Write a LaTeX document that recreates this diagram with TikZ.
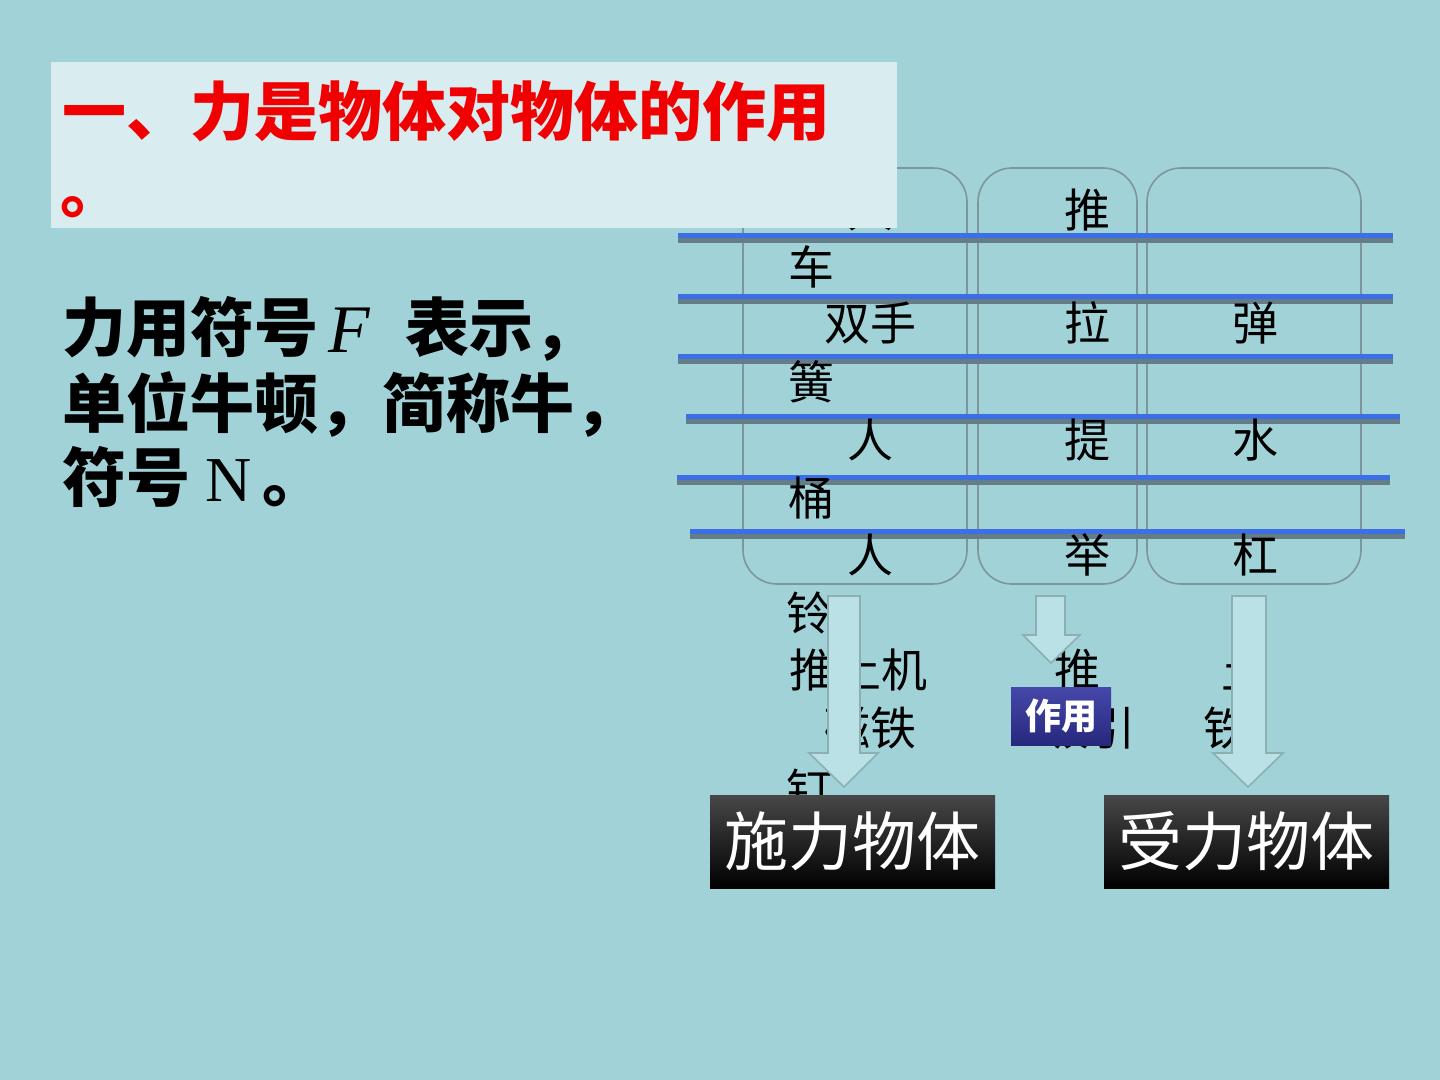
\documentclass[tikz,border=0pt]{standalone}
\usepackage{fontspec}
\newfontfamily\cjk{Noto Sans CJK SC}
\newfontfamily\tms{Liberation Serif}
\definecolor{bg}{RGB}{160,210,215}
\definecolor{titlebg}{RGB}{217,236,239}
\definecolor{linebl}{RGB}{60,110,228}
\definecolor{shadowgray}{RGB}{100,125,135}
\definecolor{boxgray}{RGB}{125,150,155}
\definecolor{arrowfill}{RGB}{186,225,230}
\definecolor{arrowedge}{RGB}{140,175,180}
\definecolor{navytop}{RGB}{70,72,170}
\definecolor{navybot}{RGB}{38,40,125}
\definecolor{titlered}{RGB}{240,0,0}
\begin{document}
\begin{tikzpicture}[x=0.5pt,y=-0.5pt,
  colbox/.style={draw=boxgray, line width=0.8pt, rounded corners=17pt, minimum height=208pt, inner sep=0pt},
  cell/.style={font=\cjk\fontsize{23}{23}\selectfont, inner sep=0pt, text=black},
  bline/.style={draw=linebl, line width=2.5pt},
  bshadow/.style={draw=shadowgray, line width=2.5pt},
  blockarrow/.style={fill=arrowfill, draw=arrowedge, line width=0.8pt, line join=miter},
  resultbox/.style={top color=black!72, bottom color=black, minimum width=142.5pt, minimum height=46.5pt, inner sep=0pt, text=white, font=\cjk\fontsize{32}{32}\selectfont},
  tag/.style={top color=navytop, bottom color=navybot, minimum width=50pt, minimum height=29pt, inner sep=0pt, text=white, font=\cjk\bfseries\fontsize{18}{18}\selectfont},
  titletext/.style={inner sep=0pt, anchor=base west, text=titlered, font=\cjk\bfseries\fontsize{32}{32}\selectfont},
  bodytext/.style={inner sep=0pt, anchor=base west, text=black, font=\cjk\bfseries\fontsize{32}{32}\selectfont},
  latin/.style={inner sep=0pt, anchor=base west, text=black, font=\tms\fontsize{34}{34}\selectfont}]
\fill[bg] (0,0) rectangle (1440,1080);
\useasboundingbox (0,0) rectangle (1440,1080);

% column boxes
\node[colbox, minimum width=112pt] (c1) at (855,376) {};
\node[colbox, minimum width=79.5pt] (c2) at (1057.5,376) {};
\node[colbox, minimum width=107pt] (c3) at (1254,376) {};

% blue ruled lines with shadows
\foreach \xa/\xb/\yy in {678/1393/236, 678/1393/297, 678/1393/357, 686/1400/417, 677/1390/477, 690/1405/531}{
  \draw[bshadow] (\xa,\yy+5) -- (\xb,\yy+5);
  \draw[bline] (\xa,\yy) -- (\xb,\yy);
}

% cell texts
\node[cell] (r1a) at (870,210) {人};
\node[cell] (r1b) at (1087,210) {推};
\node[cell] (r1c) at (811,267) {车};
\node[cell] (r2a) at (870,323) {双手};
\node[cell] (r2b) at (1087,323) {拉};
\node[cell] (r2c) at (1255,323) {弹};
\node[cell] (r2d) at (811,382) {簧};
\node[cell] (r3a) at (870,440) {人};
\node[cell] (r3b) at (1087,440) {提};
\node[cell] (r3c) at (1255,440) {水};
\node[cell] (r3d) at (811,498) {桶};
\node[cell] (r4a) at (870,555) {人};
\node[cell] (r4b) at (1087,555) {举};
\node[cell] (r4c) at (1255,555) {杠};
\node[cell] (r4d) at (809,613) {铃};
\node[cell] (r5a) at (858,670) {推土机};
\node[cell] (r5b) at (1077,670) {推};
\node[cell] (r5c) at (1244,670) {土};
\node[cell] (r6a) at (870,728) {磁铁};
\node[cell] (r6b) at (1089,728) {吸引};
\node[cell] (r6c) at (1226,728) {铁};
\node[cell] (r6d) at (809,790) {钉};

% block arrows
\filldraw[blockarrow] (828,596) -- (860,596) -- (860,753) -- (878,753) -- (844,787) -- (809,753) -- (828,753) -- cycle;
\filldraw[blockarrow] (1036,596) -- (1065,596) -- (1065,635) -- (1080,635) -- (1051,663) -- (1023,635) -- (1036,635) -- cycle;
\filldraw[blockarrow] (1232,596) -- (1266,596) -- (1266,753) -- (1283,753) -- (1248,787) -- (1213,753) -- (1232,753) -- cycle;

% action tag
\node[tag] (act) at (1061,716) {作用};

% result boxes
\node[resultbox] (src) at (852.5,841.5) {施力物体};
\node[resultbox] (dst) at (1246.5,841.5) {受力物体};

% title box
\fill[titlebg] (51,62) rectangle (897,228);
\node[titletext] (t1) at (62,136) {一、力是物体对物体的作用};
\node[titletext] (t2) at (60,213) {。};

% body text
\node[bodytext] (b1) at (62,352) {力用符号};
\node[latin, font=\tms\itshape\fontsize{34}{34}\selectfont] (bF) at (328,353) {F};
\node[bodytext] (b1b) at (405,352) {表示，};
\node[bodytext] (b2) at (62,428) {单位牛顿，简称牛，};
\node[bodytext] (b3) at (62,502) {符号};
\node[latin, font=\tms\fontsize{32}{32}\selectfont] (bN) at (205,502) {N};
\node[bodytext] (b3b) at (262,502) {。};
\end{tikzpicture}
\end{document}
